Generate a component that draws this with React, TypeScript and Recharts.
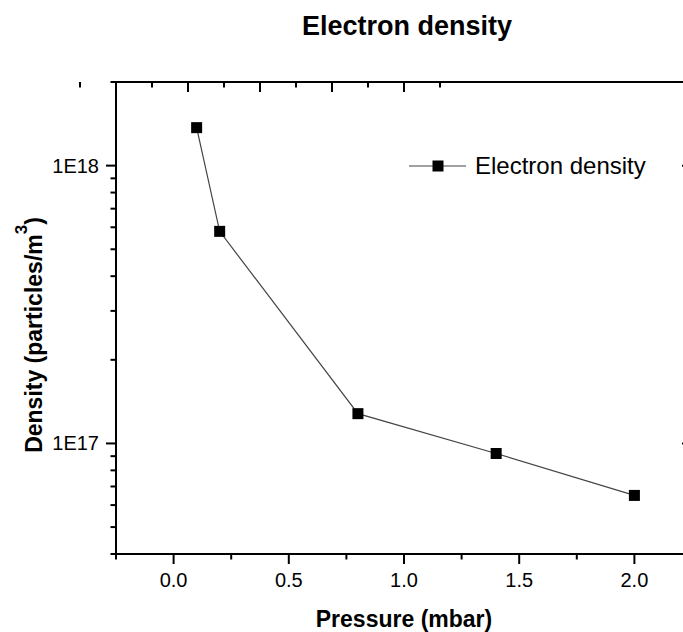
import { LineChart, Line, XAxis, YAxis, Legend, Customized } from "recharts";

const FONT = '"Liberation Sans", Arial, sans-serif';

// measured electron density vs. pressure
const pressure = [0.1, 0.2, 0.8, 1.4, 2.0];
const electronDensity = [1.37e18, 5.8e17, 1.28e17, 9.2e16, 6.5e16];

const xTicks = [-0.25, 0, 0.25, 0.5, 0.75, 1, 1.25, 1.5, 1.75, 2, 2.25];
const xMajor = [0, 0.5, 1, 1.5, 2];
const yTicks = [
  4e16, 5e16, 6e16, 7e16, 8e16, 9e16, 1e17, 2e17, 3e17, 4e17, 5e17, 6e17, 7e17, 8e17, 9e17, 1e18,
  2e18,
];
const yMajor = [1e17, 1e18];
const yMajorLabels = ["1E17", "1E18"];

const data = pressure.map((p, i) => ({ pressure: p, density: electronDensity[i] }));

const isMajorX = (v: number) => xMajor.some((m) => Math.abs(m - v) < 1e-9);
const majorYIndex = (v: number) => yMajor.findIndex((m) => Math.abs(m - v) / m < 1e-6);

// bottom ticks point outward, with labels
function BottomTick({ x, y, payload }: any) {
  const major = isMajorX(payload.value);
  return (
    <g>
      <line x1={x} x2={x} y1={y} y2={y + (major ? 10 : 5.5)} stroke="#000" strokeWidth={2} />
      {major && (
        <text x={x} y={y + 33} textAnchor="middle" fontSize={20} fontFamily={FONT} fill="#000">
          {payload.value.toFixed(1)}
        </text>
      )}
    </g>
  );
}

// top ticks point inward, no labels
function TopTick({ x, y, payload }: any) {
  const major = isMajorX(payload.value);
  return <line x1={x} x2={x} y1={y} y2={y + (major ? 10 : 5.5)} stroke="#000" strokeWidth={2} />;
}

function LeftTick({ x, y, payload }: any) {
  const idx = majorYIndex(payload.value);
  return (
    <g>
      <line x1={x} x2={x - (idx >= 0 ? 10 : 5.5)} y1={y} y2={y} stroke="#000" strokeWidth={2} />
      {idx >= 0 && (
        <text x={x - 17} y={y + 7} textAnchor="end" fontSize={20} fontFamily={FONT} fill="#000">
          {yMajorLabels[idx]}
        </text>
      )}
    </g>
  );
}

function RightTick({ x, y, payload }: any) {
  const major = majorYIndex(payload.value) >= 0;
  return <line x1={x} x2={x - (major ? 10 : 5.5)} y1={y} y2={y} stroke="#000" strokeWidth={2} />;
}

function SquareDot({ cx, cy, index }: any) {
  return <rect key={`dot-${index}`} x={cx - 5.5} y={cy - 5.5} width={11} height={11} fill="#000" />;
}

function LegendKey({ payload }: any) {
  const label = payload && payload[0] ? payload[0].value : "";
  return (
    <svg width={270} height={34} style={{ display: "block" }}>
      <line x1={4} x2={61} y1={16} y2={16} stroke="#444" strokeWidth={1.2} />
      <rect x={27.5} y={10.5} width={11} height={11} fill="#000" />
      <text x={70} y={24} fontSize={24} fontFamily={FONT} fill="#000">
        {label}
      </text>
    </svg>
  );
}

function Titles() {
  return (
    <g fontFamily={FONT} fontWeight="bold" fill="#000">
      <text x={407} y={35} textAnchor="middle" fontSize={27}>
        Electron density
      </text>
      <text x={404} y={627} textAnchor="middle" fontSize={23}>
        Pressure (mbar)
      </text>
      <text transform="translate(42,335) rotate(-90)" textAnchor="middle" fontSize={23}>
        Density (particles/m
        <tspan fontSize={17} dy={-15}>
          3
        </tspan>
        <tspan dy={15}>)</tspan>
      </text>
    </g>
  );
}

const axisLine = { stroke: "#000", strokeWidth: 2 };

export default function App() {
  return (
    <div
      style={{
        position: "absolute",
        left: 0,
        top: 0,
        width: 683,
        height: 632,
        overflow: "hidden",
        background: "#fff",
      }}
    >
      <LineChart width={702} height={632} data={data} margin={{ top: 52, right: 0, bottom: 38, left: 56 }}>
        <XAxis
          xAxisId="bottom"
          dataKey="pressure"
          type="number"
          domain={[-0.25, 2.25]}
          ticks={xTicks}
          interval={0}
          height={40}
          tickSize={0}
          tickMargin={0}
          tickLine={false}
          axisLine={axisLine}
          tick={<BottomTick />}
          allowDataOverflow
        />
        <XAxis
          xAxisId="top"
          orientation="top"
          type="number"
          domain={[-0.25, 2.25]}
          ticks={xTicks}
          interval={0}
          height={30}
          tickSize={0}
          tickMargin={0}
          tickLine={false}
          axisLine={axisLine}
          tick={<TopTick />}
          allowDataOverflow
        />
        <YAxis
          yAxisId="left"
          type="number"
          scale="log"
          domain={[4e16, 2e18]}
          ticks={yTicks}
          interval={0}
          width={60}
          tickSize={0}
          tickMargin={0}
          tickLine={false}
          axisLine={axisLine}
          tick={<LeftTick />}
          allowDataOverflow
        />
        <YAxis
          yAxisId="right"
          orientation="right"
          type="number"
          scale="log"
          domain={[4e16, 2e18]}
          ticks={yTicks}
          interval={0}
          width={10}
          tickSize={0}
          tickMargin={0}
          tickLine={false}
          axisLine={axisLine}
          tick={<RightTick />}
          allowDataOverflow
        />
        <Legend
          layout="horizontal"
          align="center"
          verticalAlign="middle"
          content={<LegendKey />}
          wrapperStyle={{ position: "absolute", left: 405, top: 150, width: 270 }}
        />
        <Line
          xAxisId="bottom"
          yAxisId="left"
          dataKey="density"
          name="Electron density"
          stroke="#444"
          strokeWidth={1.2}
          dot={SquareDot}
          activeDot={false}
          isAnimationActive={false}
        />
        <Customized component={<Titles />} />
      </LineChart>
    </div>
  );
}
